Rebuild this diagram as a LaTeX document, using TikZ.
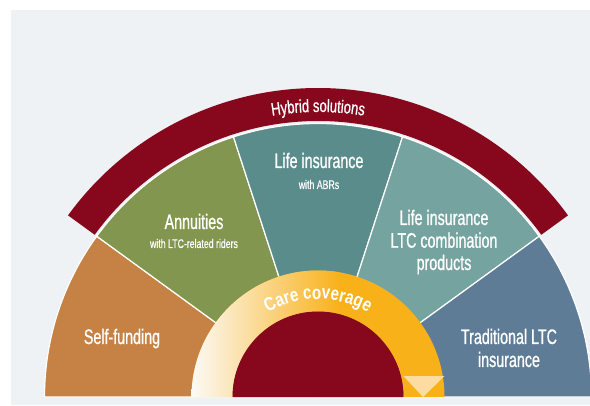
\documentclass[tikz,border=0pt]{standalone}
\usepackage{fontspec}
\setmainfont{Liberation Sans}
\newfontfamily\cond[FakeStretch=0.68,FakeBold=0.8]{Liberation Sans}
\newfontfamily\condsmall[FakeStretch=0.7,FakeBold=0.5]{Liberation Sans}
\newfontfamily\hybfont[FakeStretch=0.72,FakeBold=0.8]{Liberation Sans}
\newfontfamily\carefont[FakeStretch=0.8]{Liberation Sans}
\usetikzlibrary{decorations.text}
\definecolor{panel}{HTML}{EEF2F5}
\definecolor{selfc}{HTML}{C68245}
\definecolor{annc}{HTML}{83964F}
\definecolor{abrc}{HTML}{5B8C8C}
\definecolor{comboc}{HTML}{75A3A0}
\definecolor{tradc}{HTML}{5F7C96}
\definecolor{hybc}{HTML}{87071C}
\definecolor{ringc}{HTML}{F9B11A}
\definecolor{ringl}{HTML}{FCFAF6}
\definecolor{ringm}{HTML}{EDD6AC}
\definecolor{trianc}{HTML}{FDDCA2}
\tikzset{
  sector/.style={draw=white, line width=1.2pt, line join=round},
  biglabel/.style={anchor=base, text=white, inner sep=0pt, font=\cond\fontsize{21}{24}\selectfont},
  smalllabel/.style={anchor=base, text=white, inner sep=0pt, font=\condsmall\fontsize{12.5}{15}\selectfont}
}
\begin{document}
\begin{tikzpicture}[x=1pt,y=1pt]
\useasboundingbox (0,0) rectangle (590,405);
\fill[white] (0,0) rectangle (590,405);
\fill[panel] (11,0) rectangle (590,395);
\begin{scope}[shift={(318,8)}]
  % segments
  \filldraw[sector, fill=selfc]  (0,0) -- (180:273.5) arc[start angle=180,end angle=144,radius=273.5] -- cycle;
  \filldraw[sector, fill=annc]   (0,0) -- (144:273.5) arc[start angle=144,end angle=108,radius=273.5] -- cycle;
  \filldraw[sector, fill=abrc]   (0,0) -- (108:273.5) arc[start angle=108,end angle=72,radius=273.5] -- cycle;
  \filldraw[sector, fill=comboc] (0,0) -- (72:273.5) arc[start angle=72,end angle=36,radius=273.5] -- cycle;
  \filldraw[sector, fill=tradc]  (0,0) -- (36:273.5) arc[start angle=36,end angle=0,radius=273.5] -- cycle;
  % hybrid arc
  \fill[hybc] (36:276) arc[start angle=36,end angle=144,radius=276] -- (144:309) arc[start angle=144,end angle=36,radius=309] -- cycle;
  % care coverage ring
  \begin{scope}
    \clip (0:126.5) arc[start angle=0,end angle=180,radius=126.5] -- (180:85.5) arc[start angle=180,end angle=0,radius=85.5] -- cycle;
    \fill[ringc] (-130,0) rectangle (130,130);
    \shade[left color=ringl, middle color=ringm, right color=ringc] (-127,0) rectangle (22,130);
  \end{scope}
  \fill[trianc] (85.5,21) -- (126.5,21) -- (105,0) -- cycle;
  \fill[hybc] (85.5,0) arc[start angle=0,end angle=180,radius=85.5] -- cycle;
  % curved texts
  \path[decorate, decoration={text along path, text align=center, text color=white,
      text={|\hybfont\fontsize{18}{18}\selectfont|Hybrid solutions}}]
      (150:285) arc[start angle=150,end angle=30,radius=285];
  \path[decorate, decoration={text along path, text align=center, text color=white,
      text={|\carefont\bfseries\fontsize{19}{19}\selectfont|Care coverage}}]
      (160:98) arc[start angle=160,end angle=20,radius=98];
\end{scope}
% labels
\node[biglabel] (self) at (122,61) {Self-funding};
\node[biglabel] (ann) at (194,176) {Annuities};
\node[smalllabel] (annsub) at (194,157) {with LTC-related riders};
\node[biglabel] (abr) at (319,237) {Life insurance};
\node[smalllabel] (abrsub) at (319,216) {with ABRs};
\node[biglabel] (combo1) at (444,180) {Life insurance};
\node[biglabel] (combo2) at (444,157.3) {LTC combination};
\node[biglabel] (combo3) at (444,135) {products};
\node[biglabel] (trad1) at (509,61) {Traditional LTC};
\node[biglabel] (trad2) at (509,38) {insurance};
\end{tikzpicture}
\end{document}
